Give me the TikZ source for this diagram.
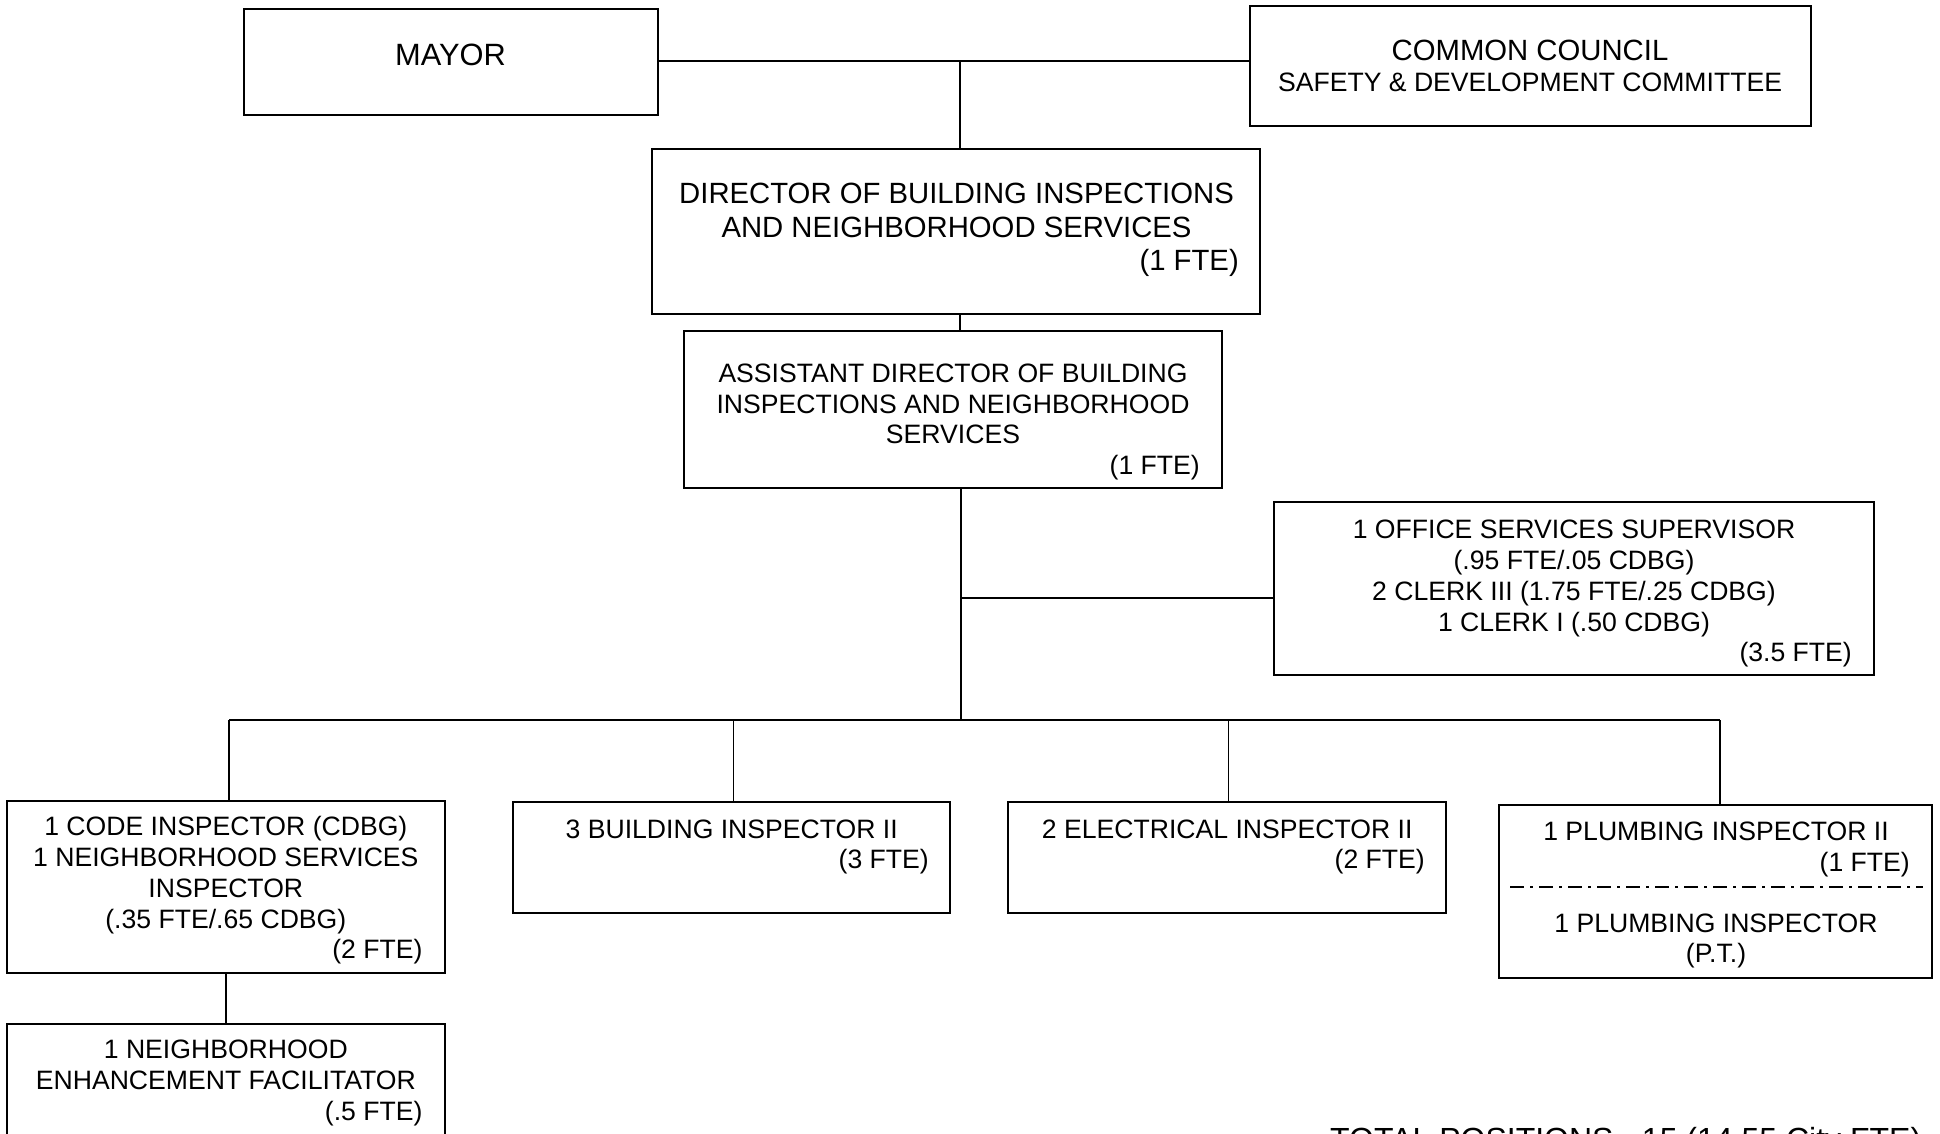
\documentclass[tikz,border=0pt]{standalone}
\usepackage{fontspec}
\setmainfont{Liberation Sans}
\begin{document}
\begin{tikzpicture}[x=1pt,y=-1pt,
  box/.style={draw=black, line width=2pt, rectangle, inner sep=0pt},
  conn/.style={draw=black, line width=1.5pt},
  bar/.style={draw=black, line width=2.6pt},
  txt/.style={inner sep=0pt, anchor=base},
  fte/.style={inner sep=0pt, anchor=base east},
  ftw/.style={font=\fontsize{29.3}{33.7}\selectfont},
  fel/.style={font=\fontsize{26.6}{30.6}\selectfont}]
\useasboundingbox (0,0) rectangle (1940,1133);
% boxes
\node[box, minimum width=414, minimum height=106] (mayor) at (451,62) {};
\node[box, minimum width=561, minimum height=120] (council) at (1530,66) {};
\node[box, minimum width=608, minimum height=164.7] (director) at (956,231.6) {};
\node[box, minimum width=538, minimum height=157.6] (asst) at (952.6,409.5) {};
\node[box, minimum width=600, minimum height=173.3] (office) at (1574,588.3) {};
\node[box, minimum width=438.3, minimum height=172.3] (code) at (225.8,887.2) {};
\node[box, minimum width=436.6, minimum height=111] (bldg) at (731.7,857.5) {};
\node[box, minimum width=437.7, minimum height=111] (elec) at (1227.2,857.5) {};
\node[box, minimum width=432.7, minimum height=173] (plumb) at (1715.4,891.5) {};
\node[box, minimum width=438.3, minimum height=160] (nef) at (225.8,1104.3) {};
% texts
\node[txt, font=\fontsize{30.8}{34}\selectfont] (mayort) at (450.5,65) {MAYOR};
\node[txt, ftw] (counc1) at (1530,60) {COMMON COUNCIL};
\node[txt, fel] (counc2) at (1530,91) {SAFETY \& DEVELOPMENT COMMITTEE};
\node[txt, ftw] (dir1) at (956.5,203.5) {DIRECTOR OF BUILDING INSPECTIONS};
\node[txt, ftw] (dir2) at (956.5,237) {AND NEIGHBORHOOD SERVICES};
\node[fte, ftw] (dir3) at (1239,270) {(1 FTE)};
\node[txt, fel] (as1) at (953,382) {ASSISTANT DIRECTOR OF BUILDING};
\node[txt, fel] (as2) at (953,413) {INSPECTIONS AND NEIGHBORHOOD};
\node[txt, fel] (as3) at (953,443) {SERVICES};
\node[fte, fel] (as4) at (1200,474) {(1 FTE)};
\node[txt, fel] (of1) at (1574,538) {1 OFFICE SERVICES SUPERVISOR};
\node[txt, fel] (of2) at (1574,569) {(.95 FTE/.05 CDBG)};
\node[txt, fel] (of3) at (1574,600) {2 CLERK III (1.75 FTE/.25 CDBG)};
\node[txt, fel] (of4) at (1574,631) {1 CLERK I (.50 CDBG)};
\node[fte, fel] (of5) at (1852,661) {(3.5 FTE)};
\node[txt, fel] (co1) at (225.8,835.7) {1 CODE INSPECTOR (CDBG)};
\node[txt, fel] (co2) at (225.8,866.5) {1 NEIGHBORHOOD SERVICES};
\node[txt, fel] (co3) at (225.8,897.3) {INSPECTOR};
\node[txt, fel] (co4) at (225.8,928) {(.35 FTE/.65 CDBG)};
\node[fte, fel] (co5) at (422.7,958.7) {(2 FTE)};
\node[txt, fel] (bl1) at (731.7,838) {3 BUILDING INSPECTOR II};
\node[fte, fel] (bl2) at (929,868) {(3 FTE)};
\node[txt, fel] (el1) at (1227.2,838) {2 ELECTRICAL INSPECTOR II};
\node[fte, fel] (el2) at (1425,868) {(2 FTE)};
\node[txt, fel] (pl1) at (1716,840.7) {1 PLUMBING INSPECTOR II};
\node[fte, fel] (pl2) at (1910,871.5) {(1 FTE)};
\node[txt, fel] (pl3) at (1716,932.7) {1 PLUMBING INSPECTOR};
\node[txt, fel] (pl4) at (1716,962) {(P.T.)};
\node[txt, fel] (ne1) at (225.8,1058.3) {1 NEIGHBORHOOD};
\node[txt, fel] (ne2) at (225.8,1089) {ENHANCEMENT FACILITATOR};
\node[fte, fel] (ne3) at (422.7,1120) {(.5 FTE)};
\node[inner sep=0pt, anchor=base west, font=\fontsize{32}{36}\selectfont] (total) at (1330,1150) {TOTAL POSITIONS - 15 (14.55 City FTE)};
% plumbing divider
\coordinate (pdl) at (1510,886.7);
\coordinate (pdr) at (1923,886.7);
\draw[line width=1.6pt, dash pattern=on 14pt off 6pt on 3pt off 6pt] (pdl) -- (pdr);
% connectors
\coordinate (j1) at (960,61);
\coordinate (ob) at (961,598);
\coordinate (bl) at (229,720);
\coordinate (br) at (1720,720);
\coordinate (d2) at (733.6,720);
\coordinate (d3) at (1228.5,720);
\coordinate (tt) at (961,720);
\draw[conn] (mayor.east |- j1) -- (council.west |- j1);
\draw[conn] (j1) -- (j1 |- director.north);
\draw[conn] (j1 |- director.south) -- (j1 |- asst.north);
\draw[conn] (ob |- asst.south) -- (tt);
\draw[conn] (ob) -- (ob -| office.west);
\draw[bar] (bl) -- (br);
\draw[conn] (bl) -- (bl |- code.north);
\draw[conn] (d2) -- (d2 |- bldg.north);
\draw[conn] (d3) -- (d3 |- elec.north);
\draw[conn] (br) -- (br |- plumb.north);
\draw[conn] (code.south) -- (nef.north);
\end{tikzpicture}
\end{document}
